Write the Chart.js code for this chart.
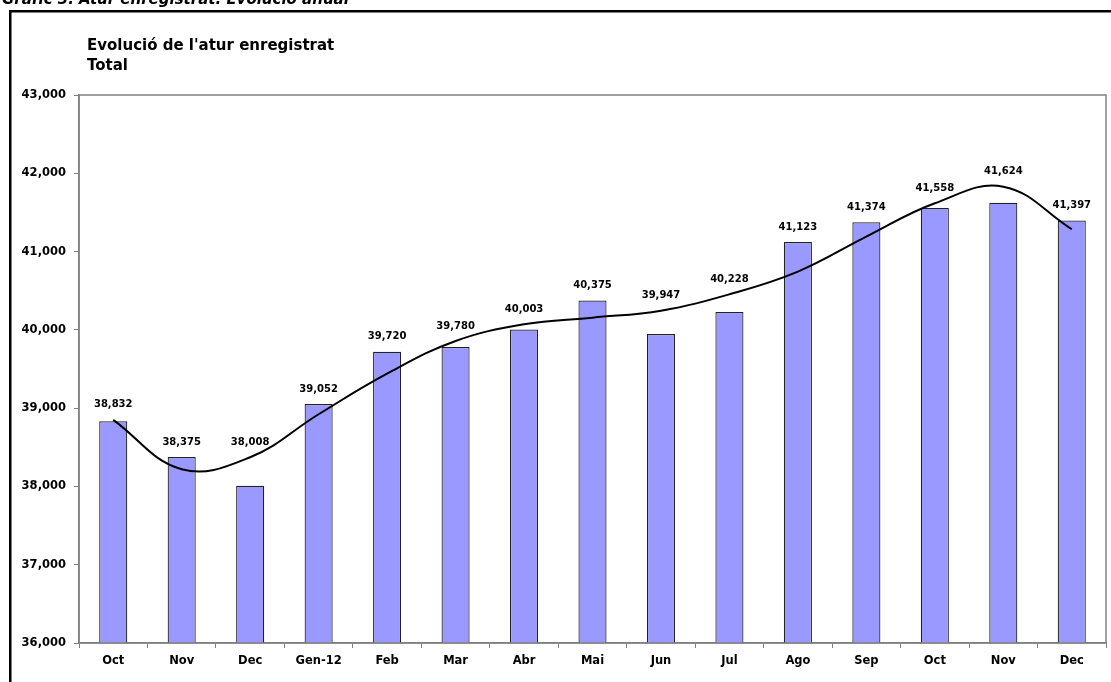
<!DOCTYPE html>
<html>
<head>
<meta charset="utf-8">
<script src="https://cdn.jsdelivr.net/npm/chart.js@4.4.0/dist/chart.umd.js"></script>
<style>
    html, body { margin: 0; padding: 0; background: #fff; overflow: hidden; }
    #wrap { position: relative; width: 1111px; height: 682px; }
</style>
</head>
<body>
<div id="wrap"><canvas id="chart" width="1111" height="682"></canvas></div>
<script>
// Monthly registered unemployment (Oct 2011 - Dec 2012)
const months = ['Oct', 'Nov', 'Dec', 'Gen-12', 'Feb', 'Mar', 'Abr', 'Mai', 'Jun', 'Jul', 'Ago', 'Sep', 'Oct', 'Nov', 'Dec'];
const unemployed = [38832, 38375, 38008, 39052, 39720, 39780, 40003, 40375, 39947, 40228, 41123, 41374, 41558, 41624, 41397];
// trend curve at each month
const trend = [38850, 38220, 38373, 38922, 39440, 39858, 40071, 40156, 40245, 40454, 40744, 41191, 41617, 41829, 41285];
const yTicks = [36000, 37000, 38000, 39000, 40000, 41000, 42000, 43000];

const FONT = '"DejaVu Sans", "Liberation Sans", Arial, sans-serif';

// frame, cut page title and chart titles
const framePlugin = {
    id: 'frame',
    beforeDraw(chart) {
        const ctx = chart.ctx;
        ctx.save();
        ctx.fillStyle = '#fff';
        ctx.fillRect(0, 0, chart.width, chart.height);
        ctx.fillStyle = '#000';
        ctx.font = 'italic bold 15px ' + FONT;
        ctx.textBaseline = 'alphabetic';
        ctx.fillText('Gràfic 3. Atur enregistrat. Evolució anual', 2, 4);
        ctx.fillRect(9, 10, 1200, 2.5);
        ctx.fillRect(9, 10, 2.5, 700);
        ctx.font = 'bold 15px ' + FONT;
        ctx.fillText("Evolució de l'atur enregistrat", 87, 50);
        ctx.fillText('Total', 87, 70);
        ctx.restore();
    },
    afterDraw(chart) {
        const a = chart.chartArea;
        const ctx = chart.ctx;
        ctx.save();
        ctx.strokeStyle = '#808080';
        ctx.lineWidth = 1.5;
        ctx.strokeRect(a.left, a.top, a.right - a.left, a.bottom - a.top);
        ctx.restore();
    }
};

// value labels above bar or curve, whichever is higher
const valueLabels = {
    id: 'valueLabels',
    afterDatasetsDraw(chart) {
        const ctx = chart.ctx;
        const bars = chart.getDatasetMeta(0).data;
        const line = chart.getDatasetMeta(1).data;
        ctx.save();
        ctx.font = 'bold 10px ' + FONT;
        ctx.fillStyle = '#000';
        ctx.textAlign = 'center';
        ctx.textBaseline = 'bottom';
        bars.forEach((bar, i) => {
            const top = Math.min(bar.y, line[i].y);
            ctx.fillText(unemployed[i].toLocaleString('en-US'), bar.x, top - 10);
        });
        ctx.restore();
    }
};

new Chart(document.getElementById('chart'), {
    data: {
        labels: months,
        datasets: [{
            type: 'bar',
            data: unemployed,
            backgroundColor: '#9999ff',
            borderColor: '#222222',
            borderWidth: 1.2,
            barPercentage: 0.41,
            categoryPercentage: 1,
            order: 1
        }, {
            type: 'line',
            data: trend,
            borderColor: '#000',
            borderWidth: 2,
            pointRadius: 0,
            tension: 0.4,
            fill: false,
            order: 0
        }]
    },
    options: {
        responsive: false,
        animation: false,
        layout: { padding: { left: 0, top: 95, right: 5, bottom: 0 } },
        plugins: {
            legend: { display: false },
            tooltip: { enabled: false }
        },
        scales: {
            x: {
                offset: true,
                grid: { display: true, drawOnChartArea: false, offset: true, tickLength: 5, color: '#808080' },
                border: { color: '#808080', width: 1.5 },
                ticks: { color: '#000', font: { family: FONT, size: 11.5, weight: 'bold' }, padding: 6, maxRotation: 0, autoSkip: false },
                afterFit(scale) { scale.height = 39; }
            },
            y: {
                min: yTicks[0],
                max: yTicks[yTicks.length - 1],
                afterBuildTicks(scale) { scale.ticks = yTicks.map(v => ({ value: v })); },
                grid: { display: true, drawOnChartArea: false, tickLength: 5, color: '#808080' },
                border: { color: '#808080', width: 1.5 },
                ticks: {
                    color: '#000',
                    font: { family: FONT, size: 11.5, weight: 'bold' },
                    padding: 8,
                    callback: v => v.toLocaleString('en-US')
                },
                afterFit(scale) { scale.width = 79; }
            }
        }
    },
    plugins: [framePlugin, valueLabels]
});
</script>
</body>
</html>
